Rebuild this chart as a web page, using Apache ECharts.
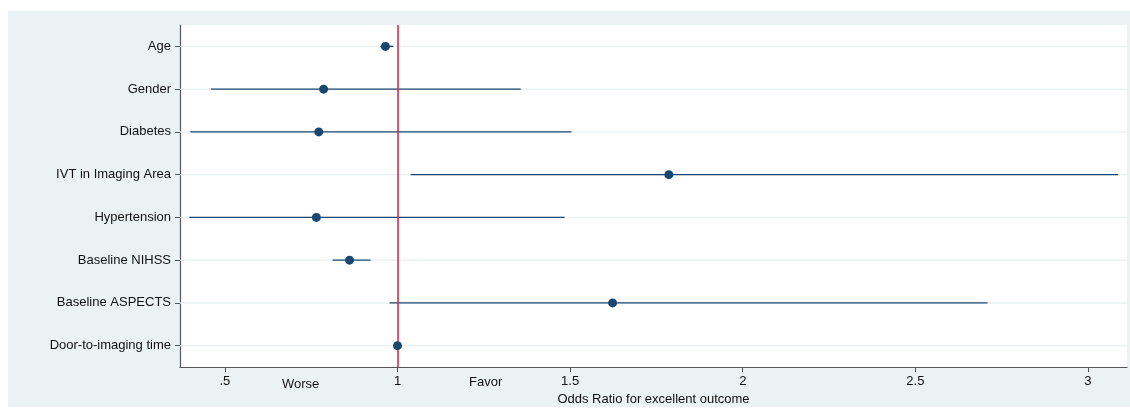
<!DOCTYPE html>
<html>
<head>
<meta charset="utf-8">
<script src="https://cdn.jsdelivr.net/npm/echarts@6/dist/echarts.min.js"></script>
<style>
  html, body { margin: 0; padding: 0; background: #fff; }
  #chart { width: 1130px; height: 416px; }
</style>
</head>
<body>
<div id="chart"></div>
<script>
// 变量与数据
var categories = ['Age', 'Gender', 'Diabetes', 'IVT in Imaging Area', 'Hypertension',
    'Baseline NIHSS', 'Baseline ASPECTS', 'Door-to-imaging time'];
var oddsRatio = [0.965, 0.786, 0.772, 1.786, 0.765, 0.861, 1.623, 1.0];
var ciLow = [0.951, 0.46, 0.40, 1.038, 0.397, 0.812, 0.977, 0.998];
var ciHigh = [0.988, 1.357, 1.504, 3.087, 1.484, 0.922, 2.709, 1.002];
var xTicks = [0.5, 1, 1.5, 2, 2.5, 3];

var navy = '#1a476f';
var font = 'Liberation Sans, Arial, Helvetica, sans-serif';

var ciData = []
var pointData = []
for (var i = 0; i < categories.length; i++) {
    ciData.push([ciLow[i], ciHigh[i], i])
    pointData.push([oddsRatio[i], i])
}

var myChart = echarts.init(document.getElementById('chart'));
var option = {
    animation: false,
    backgroundColor: '#ffffff',
    textStyle: { fontFamily: font },
    graphic: [
        {
            type: 'rect', z: -10, silent: true,
            shape: { x: 8, y: 11, width: 1122, height: 396 },
            style: { fill: '#eaf2f3' }
        },
        {
            type: 'text', left: 282, top: 378,
            style: { text: 'Worse', fontSize: 13, fill: '#111', fontFamily: font }
        },
        {
            type: 'text', left: 469, top: 376,
            style: { text: 'Favor', fontSize: 13, fill: '#111', fontFamily: font }
        }
    ],
    grid: {
        left: 180, right: 3, top: 25, bottom: 49,
        show: true, backgroundColor: '#ffffff', borderWidth: 0
    },
    xAxis: {
        type: 'value',
        min: 0.37,
        max: 3.113,
        name: 'Odds Ratio for excellent outcome',
        nameLocation: 'middle',
        nameGap: 26,
        nameTextStyle: { fontSize: 13, color: '#111', fontFamily: font },
        axisLine: { show: true, lineStyle: { color: '#555', width: 1.2 } },
        axisTick: { show: true, length: 5, customValues: xTicks, lineStyle: { color: '#555' } },
        axisLabel: {
            customValues: xTicks,
            fontSize: 13, color: '#111', margin: 8,
            formatter: function (v) {
                return v === 0.5 ? '.5' : String(v);
            }
        },
        splitLine: { show: false }
    },
    yAxis: {
        type: 'category',
        data: categories,
        inverse: true,
        axisLine: { show: true, lineStyle: { color: '#555', width: 1.2 } },
        axisTick: { show: true, alignWithLabel: true, length: 5, lineStyle: { color: '#555' } },
        axisLabel: { fontSize: 13, color: '#111', margin: 9, padding: [3, 0, 0, 0] },
        splitLine: { show: false }
    },
    series: [
        {
            // 网格线
            type: 'custom',
            silent: true,
            z: 1,
            data: categories.map(function (c, i) { return [i]; }),
            renderItem: function (params, api) {
                var y = api.coord([0.37, api.value(0)])[1];
                var cs = params.coordSys;
                return {
                    type: 'line',
                    shape: { x1: cs.x, y1: y, x2: cs.x + cs.width, y2: y },
                    style: { stroke: '#eaf2f3', lineWidth: 1.5 }
                };
            }
        },
        {
            type: 'custom',
            z: 3,
            data: ciData,
            encode: { x: [0, 1], y: 2 },
            renderItem: function (params, api) {
                var p1 = api.coord([api.value(0), api.value(2)]);
                var p2 = api.coord([api.value(1), api.value(2)]);
                return {
                    type: 'line',
                    shape: { x1: p1[0], y1: p1[1], x2: p2[0], y2: p2[1] },
                    style: { stroke: navy, lineWidth: 1.4 }
                };
            }
        },
        {
            type: 'scatter',
            z: 5,
            symbol: 'circle',
            symbolSize: 9,
            itemStyle: { color: navy, opacity: 1 },
            data: pointData,
            markLine: {
                silent: true,
                symbol: ['none', 'none'],
                label: { show: false },
                lineStyle: { color: '#e3264d', width: 1.6, type: 'solid', opacity: 1 },
                data: [{ xAxis: 1 }]
            }
        }
    ]
};
myChart.setOption(option);
</script>
</body>
</html>
